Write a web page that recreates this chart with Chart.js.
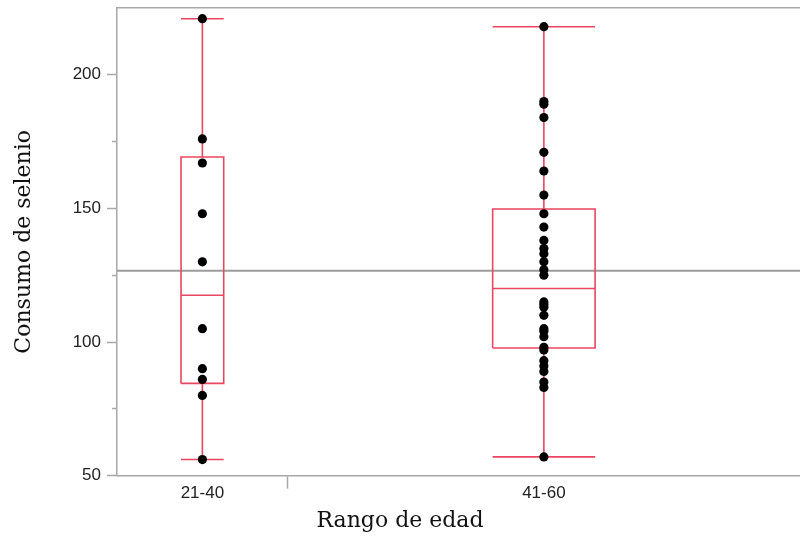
<!DOCTYPE html>
<html>
<head>
<meta charset="utf-8">
<script src="https://cdn.jsdelivr.net/npm/chart.js@4"></script>
<style>
  html, body { margin: 0; padding: 0; background: #fff; }
  #wrap { width: 800px; height: 538px; }
</style>
</head>
<body>
<div id="wrap"><canvas id="selenio"></canvas></div>
<script>
const categories = ["21-40", "41-60"];
const edad2140 = [221, 176, 167, 148, 130, 105, 90, 86, 80, 56];
const edad4160 = [218, 190, 189, 184, 171, 164, 155, 148, 143, 138, 135, 133, 130, 127, 125,
                  115, 114, 113, 110, 105, 104, 102, 98, 97, 93, 91, 89, 85, 83, 57];
const yTicks = [50, 100, 150, 200];
const yMinorTicks = [75, 125, 175];

const groups = [edad2140, edad4160];
const red = "#EB4660";
const gray = "#A8A8A8";
const boxHalf = [1.25, 3];   // box half width, in x units
const labelFont = { family: "Liberation Sans", size: 17 };
const titleFont = { family: "DejaVu Serif", size: 22, weight: "normal" };

// JMP style quantile: position p*(n+1)
function quantile(sorted, p) {
   const n = sorted.length;
   const pos = p * (n + 1);
   const i = Math.floor(pos);
   if (i < 1) return sorted[0];
   if (i >= n) return sorted[n - 1];
   return sorted[i - 1] + (pos - i) * (sorted[i] - sorted[i - 1]);
}

// each group gets a band as wide as its sample size
const centers = [];
const bounds = [];
let start = 0;
groups.forEach((g, i) => {
   centers.push(start + g.length / 2);
   start += g.length;
   if (i < groups.length - 1) bounds.push(start);
});
const total = start;

const gap = (x) => ({ x: x, y: null });
const boxLines = [];
const points = [];
groups.forEach((g, i) => {
   const s = [...g].sort((a, b) => a - b);
   const c = centers[i];
   const w = boxHalf[i];
   const q1 = quantile(s, 0.25);
   const med = quantile(s, 0.5);
   const q3 = quantile(s, 0.75);
   const iqr = q3 - q1;
   const lo = s.find(v => v >= q1 - 1.5 * iqr);
   const hi = [...s].reverse().find(v => v <= q3 + 1.5 * iqr);
   boxLines.push(
      { x: c - w, y: q1 }, { x: c + w, y: q1 }, { x: c + w, y: q3 }, { x: c - w, y: q3 }, { x: c - w, y: q1 }, gap(c),
      { x: c - w, y: med }, { x: c + w, y: med }, gap(c),
      { x: c, y: q3 }, { x: c, y: hi }, gap(c),
      { x: c, y: q1 }, { x: c, y: lo }, gap(c),
      { x: c - w, y: hi }, { x: c + w, y: hi }, gap(c),
      { x: c - w, y: lo }, { x: c + w, y: lo }, gap(c)
   );
   g.forEach(v => points.push({ x: c, y: v }));
});

const all = groups.flat();
const mean = all.reduce((a, b) => a + b, 0) / all.length;

const noEdgePad = (s) => {
   s.paddingTop = 0;
   s.paddingBottom = 0;
   s.paddingLeft = 0;
   s.paddingRight = 0;
};

new Chart("selenio", {
   type: "scatter",
   data: {
      datasets: [
         {
            data: points,
            pointRadius: 4.6,
            pointBackgroundColor: "#000",
            pointBorderWidth: 0,
            showLine: false
         },
         {
            data: boxLines,
            showLine: true,
            spanGaps: false,
            pointRadius: 0,
            borderColor: red,
            borderWidth: 1.6
         },
         {
            data: [{ x: 0, y: mean }, { x: total, y: mean }],
            showLine: true,
            pointRadius: 0,
            borderColor: "#9C9C9C",
            borderWidth: 2
         }
      ]
   },
   options: {
      responsive: true,
      maintainAspectRatio: false,
      animation: false,
      layout: { autoPadding: false, padding: { top: 8, right: 0, left: 0, bottom: 0 } },
      plugins: {
         legend: { display: false },
         tooltip: { enabled: false },
         title: {
            display: true,
            position: "bottom",
            text: "Rango de edad",
            font: titleFont,
            color: "#111",
            padding: { top: 2, bottom: 4 }
         }
      },
      scales: {
         x: {
            type: "linear",
            position: "bottom",
            min: 0,
            max: total,
            afterBuildTicks: (s) => {
               s.ticks = [...centers, ...bounds].map(v => ({ value: v }));
            },
            ticks: {
               autoSkip: false,
               maxRotation: 0,
               padding: -5,
               color: "#222",
               font: labelFont,
               callback: (value) => {
                  const i = centers.findIndex(c => Math.abs(c - value) < 1e-6);
                  return i >= 0 ? categories[i] : "";
               }
            },
            grid: {
               drawOnChartArea: false,
               tickLength: 13,
               tickWidth: 1.5,
               tickColor: (ctx) => (ctx.tick && bounds.includes(ctx.tick.value) ? gray : "rgba(0,0,0,0)")
            },
            border: { color: gray, width: 1.5 },
            afterFit: (s) => { s.height = 30; noEdgePad(s); }
         },
         xTop: {
            type: "linear",
            position: "top",
            min: 0,
            max: total,
            ticks: { display: false },
            grid: { display: false, drawTicks: false },
            border: { display: true, color: gray, width: 1.5 },
            afterFit: (s) => { s.height = 0; noEdgePad(s); }
         },
         y: {
            type: "linear",
            position: "left",
            weight: 1,
            min: 50,
            max: 225,
            afterBuildTicks: (s) => {
               s.ticks = yTicks.map(v => ({ value: v }));
            },
            ticks: { color: "#222", font: labelFont, padding: 6 },
            grid: { drawOnChartArea: false, tickLength: 10, tickWidth: 1.5, tickColor: gray },
            border: { color: gray, width: 1.5 },
            title: {
               display: true,
               text: "Consumo de selenio",
               font: titleFont,
               color: "#111",
               padding: { top: 11, bottom: 0 }
            },
            afterFit: (s) => { s.width = 117; noEdgePad(s); }
         },
         yMinor: {
            type: "linear",
            position: "left",
            weight: 0,
            min: 50,
            max: 225,
            afterBuildTicks: (s) => {
               s.ticks = yMinorTicks.map(v => ({ value: v }));
            },
            ticks: { display: false },
            grid: { drawOnChartArea: false, tickLength: 5, tickWidth: 1.5, tickColor: gray },
            border: { display: false },
            afterFit: (s) => { s.width = 0; noEdgePad(s); }
         }
      }
   }
});
</script>
</body>
</html>
